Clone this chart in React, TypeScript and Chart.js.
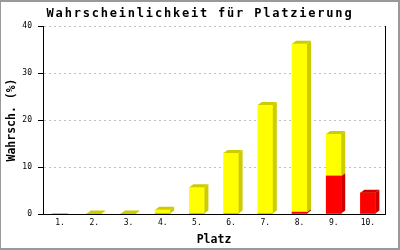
import React, { useEffect, useRef } from "react";
import { Chart, registerables } from "chart.js";

Chart.register(...registerables);

const categories = ["1.", "2.", "3.", "4.", "5.", "6.", "7.", "8.", "9.", "10."];
const redValues = [0, 0, 0, 0, 0, 0, 0, 0.4, 8.1, 4.5];
const yellowValues = [0, 0.1, 0.1, 0.9, 5.7, 13.0, 23.2, 35.8, 8.9, 0];
const yTicks = [0, 10, 20, 30, 40];

const titleText = "Wahrscheinlichkeit für Platzierung";
const xTitle = "Platz";
const yTitle = "Wahrsch. (%)";

const frontColors = ["#ff0000", "#ffff00"];
const sideColors = ["#cc0000", "#cccc00"];

const DX = 4;
const DY = 3;

const depthPlugin = {
  id: "depth3d",
  beforeDraw(chart: any) {
    const tb = chart.titleBlock;
    if (tb && !tb._spaced) {
      const orig = tb.draw.bind(tb);
      tb.draw = function (...args: any[]) {
        const ctx = chart.ctx;
        ctx.save();
        ctx.letterSpacing = "1.8px";
        orig(...args);
        ctx.restore();
      };
      tb._spaced = true;
    }
  },
  afterDatasetsDraw(chart: any) {
    const ctx = chart.ctx;
    const n = chart.data.labels.length;
    const metas = chart.data.datasets.map((_: any, i: number) => chart.getDatasetMeta(i));
    for (let idx = 0; idx < n; idx++) {
      let topDs = -1;
      chart.data.datasets.forEach((ds: any, di: number) => {
        if (ds.data[idx] > 0) topDs = di;
      });
      if (topDs < 0) continue;
      chart.data.datasets.forEach((ds: any, di: number) => {
        if (!(ds.data[idx] > 0)) return;
        const el = metas[di].data[idx];
        const { x, y, base, width } = el.getProps(["x", "y", "base", "width"], true);
        const l = x - width / 2;
        const r = x + width / 2;
        ctx.save();
        ctx.fillStyle = sideColors[di];
        ctx.beginPath();
        ctx.moveTo(r, y);
        ctx.lineTo(r + DX, y - DY);
        ctx.lineTo(r + DX, base - DY);
        ctx.lineTo(r, base);
        ctx.closePath();
        ctx.fill();
        if (di === topDs) {
          ctx.beginPath();
          ctx.moveTo(l, y);
          ctx.lineTo(l + DX, y - DY);
          ctx.lineTo(r + DX, y - DY);
          ctx.lineTo(r, y);
          ctx.closePath();
          ctx.fill();
        }
        ctx.restore();
      });
    }
  },
  afterDraw(chart: any) {
    const { ctx, chartArea } = chart;
    ctx.save();
    ctx.strokeStyle = "#000";
    ctx.lineWidth = 1;
    ctx.beginPath();
    const xr = Math.round(chartArea.right) + 0.5;
    ctx.moveTo(xr, chartArea.top);
    ctx.lineTo(xr, chartArea.bottom);
    ctx.stroke();
    ctx.restore();
  },
};

export default function App() {
  const ref = useRef<HTMLCanvasElement | null>(null);
  useEffect(() => {
    if (!ref.current) return;
    const chart = new Chart(ref.current, {
      type: "bar",
      data: {
        labels: categories,
        datasets: [
          { label: "rot", data: redValues, backgroundColor: frontColors[0], borderWidth: 0, barThickness: 15, yAxisID: "y" },
          { label: "gelb", data: yellowValues, backgroundColor: frontColors[1], borderWidth: 0, barThickness: 15, yAxisID: "y" },
        ],
      },
      options: {
        responsive: false,
        animation: false,
        layout: { padding: 0 },
        plugins: {
          legend: { display: false },
          tooltip: { enabled: false },
          title: {
            display: true,
            text: titleText,
            color: "#000",
            font: { family: "DejaVu Sans Mono", size: 12, weight: "bold" },
            padding: { top: 7, bottom: 4.6 },
          },
        },
        scales: {
          x: {
            stacked: true,
            grid: { display: false, drawTicks: false },
            border: { display: true, color: "#000", width: 1 },
            ticks: { color: "#000", font: { family: "DejaVu Sans Mono", size: 8 }, padding: 4, maxRotation: 0 },
            title: {
              display: true,
              text: xTitle,
              color: "#000",
              font: { family: "DejaVu Sans Mono", size: 11.5, weight: "bold" },
              padding: { top: 3, bottom: 3 },
            },
            afterFit: (s: any) => {
              s.height = 36;
            },
          },
          y: {
            stacked: true,
            min: 0,
            max: 40,
            afterBuildTicks: (s: any) => {
              s.ticks = yTicks.map((v) => ({ value: v }));
            },
            grid: {
              color: "#c0c0c0",
              drawTicks: true,
              tickLength: 5,
              tickColor: "#000",
              tickBorderDash: [],
            },
            border: { display: true, color: "#000", width: 1, dash: [2, 3] },
            ticks: { color: "#000", font: { family: "DejaVu Sans Mono", size: 8 }, padding: 6 },
            title: {
              display: true,
              text: yTitle,
              color: "#000",
              font: { family: "DejaVu Sans Mono", size: 11.5, weight: "bold" },
              padding: { top: 5, bottom: 5 },
            },
            afterFit: (s: any) => {
              s.width = 43;
            },
          },
          yRight: {
            type: "linear",
            position: "right",
            display: true,
            grid: { display: false, drawTicks: false },
            border: { display: false },
            ticks: { display: false },
            afterFit: (s: any) => {
              s.width = 15;
            },
          },
        },
      },
      plugins: [depthPlugin],
    });
    return () => chart.destroy();
  }, []);
  return (
    <div style={{ position: "fixed", left: 0, top: 0, width: 400, height: 250, background: "#fff" }}>
      <canvas ref={ref} width={400} height={250} style={{ display: "block" }} />
      <div
        style={{
          position: "absolute",
          inset: 0,
          borderStyle: "solid",
          borderColor: "#999",
          borderWidth: "2px 2px 2px 1px",
          pointerEvents: "none",
        }}
      />
    </div>
  );
}
